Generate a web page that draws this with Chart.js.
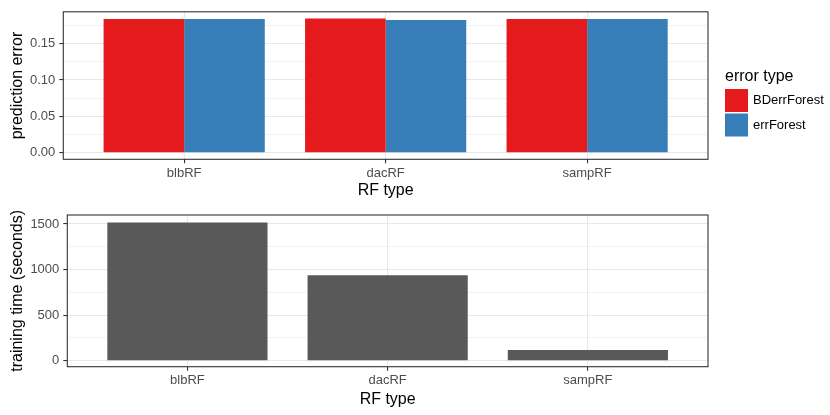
<!DOCTYPE html>
<html lang="en">
<head>
  <meta charset="UTF-8" />
  <title>RF error and training time</title>
  <script src="https://cdn.jsdelivr.net/npm/chart.js"></script>
  <style>
    body { margin: 0; background: #fff; }
    .wrap { position: relative; width: 830px; height: 415px; }
    .panel { position: absolute; left: 0; width: 830px; }
    #errPanel { top: 0; height: 200px; }
    #timePanel { top: 200px; height: 215px; }
  </style>
</head>
<body>
  <div class="wrap">
    <div class="panel" id="errPanel"><canvas id="errChart"></canvas></div>
    <div class="panel" id="timePanel"><canvas id="timeChart"></canvas></div>
  </div>

  <script>
    // data
    const rfTypes = ["blbRF", "dacRF", "sampRF"];
    const errorTypes = ["BDerrForest", "errForest"];
    const bdErr = [0.1837, 0.1842, 0.1837];
    const forestErr = [0.1837, 0.1824, 0.1837];
    const trainSeconds = [1518, 937, 117];
    const errTicks = [0, 0.05, 0.10, 0.15];
    const timeTicks = [0, 500, 1000, 1500];

    const FONT = "'Liberation Sans', Arial, Helvetica, sans-serif";
    Chart.defaults.font.family = FONT;
    Chart.defaults.animation = false;

    // ggplot-ish: major + minor grid, ticks only at majors
    function withMinor(major, max) {
      const out = [];
      for (let i = 0; i < major.length; i++) {
        out.push(major[i]);
        if (i < major.length - 1) out.push((major[i] + major[i + 1]) / 2);
        else out.push(major[i] + (major[i] - major[i - 1]) / 2);
      }
      return out.filter(v => v <= max);
    }
    const isMajor = (list, v) => list.some(m => Math.abs(m - v) < 1e-9);

    const panelBorder = {
      id: "panelBorder",
      afterDraw(chart) {
        const { ctx, chartArea: a } = chart;
        ctx.save();
        ctx.strokeStyle = "#333333";
        ctx.lineWidth = 1.1;
        ctx.strokeRect(a.left, a.top, a.right - a.left, a.bottom - a.top);
        ctx.restore();
      }
    };

    const errLegend = {
      id: "errLegend",
      afterDraw(chart) {
        const ctx = chart.ctx;
        ctx.save();
        ctx.fillStyle = "#000";
        ctx.font = "16px " + FONT;
        ctx.textBaseline = "middle";
        ctx.fillText("error type", 725, 77);
        chart.data.datasets.forEach((ds, i) => {
          const y = 89 + i * 24.5;
          ctx.fillStyle = ds.backgroundColor;
          ctx.fillRect(725, y, 23, 23);
          ctx.fillStyle = "#000";
          ctx.font = "13px " + FONT;
          ctx.fillText(ds.label, 753, y + 11.5);
        });
        ctx.restore();
      }
    };

    function xScale(axisHeight, titlePad) {
      return {
        type: "linear",
        min: 0.4,
        max: 3.6,
        offset: false,
        afterBuildTicks: s => { s.ticks = rfTypes.map((_, i) => ({ value: i + 1 })); },
        afterFit: s => { s.height = axisHeight; },
        ticks: {
          autoSkip: false,
          maxRotation: 0,
          padding: 2,
          color: "#4D4D4D",
          font: { size: 13 },
          callback: v => rfTypes[Math.round(v) - 1] || ""
        },
        grid: { offset: false, color: "#E8E8E8", lineWidth: 1.1, tickLength: 4, tickColor: "#333333", tickWidth: 1.1 },
        border: { display: false },
        title: { display: true, text: "RF type", color: "#000", font: { size: 16 }, padding: { top: 0, bottom: titlePad } }
      };
    }

    function yScale(major, min, max, axisWidth, title, fmt) {
      return {
        min: min,
        max: max,
        afterBuildTicks: s => { s.ticks = withMinor(major, max).map(v => ({ value: v })); },
        afterFit: s => { s.width = axisWidth; },
        ticks: {
          autoSkip: false,
          padding: 4,
          color: "#4D4D4D",
          font: { size: 13 },
          callback: v => isMajor(major, v) ? fmt(v) : ""
        },
        grid: {
          color: "#E8E8E8",
          lineWidth: c => isMajor(major, c.tick ? c.tick.value : 0) ? 1.1 : 0.55,
          tickLength: 4,
          tickWidth: 1.1,
          tickColor: c => isMajor(major, c.tick ? c.tick.value : 0) ? "#333333" : "rgba(0,0,0,0)"
        },
        border: { display: false },
        title: { display: true, text: title, color: "#000", font: { size: 16 }, padding: { top: 8, bottom: 0 } }
      };
    }

    new Chart(document.getElementById("errChart"), {
      type: "bar",
      data: {
        datasets: [
          { label: errorTypes[0], data: bdErr.map((v, i) => ({ x: i + 1, y: v })), backgroundColor: "#E41A1C" },
          { label: errorTypes[1], data: forestErr.map((v, i) => ({ x: i + 1, y: v })), backgroundColor: "#377EB8" }
        ]
      },
      options: {
        responsive: true,
        maintainAspectRatio: false,
        layout: { padding: { left: 0, right: 122, top: 7.3, bottom: 0 } },
        datasets: { bar: { categoryPercentage: 0.8, barPercentage: 1.0 } },
        plugins: { legend: { display: false }, tooltip: { enabled: false } },
        scales: {
          x: xScale(40.7, 0),
          y: yScale(errTicks, -0.0088, 0.1935, 63.3, "prediction error", v => v.toFixed(2))
        }
      },
      plugins: [panelBorder, errLegend]
    });

    new Chart(document.getElementById("timeChart"), {
      type: "bar",
      data: {
        datasets: [
          { label: "training time", data: trainSeconds.map((v, i) => ({ x: i + 1, y: v })), backgroundColor: "#595959" }
        ]
      },
      options: {
        responsive: true,
        maintainAspectRatio: false,
        layout: { padding: { left: 0, right: 122, top: 15, bottom: 0 } },
        datasets: { bar: { categoryPercentage: 0.8, barPercentage: 1.0 } },
        plugins: { legend: { display: false }, tooltip: { enabled: false } },
        scales: {
          x: xScale(48.3, 6),
          y: yScale(timeTicks, -66, 1599, 67.3, "training time (seconds)", v => String(v))
        }
      },
      plugins: [panelBorder]
    });
  </script>
</body>
</html>
